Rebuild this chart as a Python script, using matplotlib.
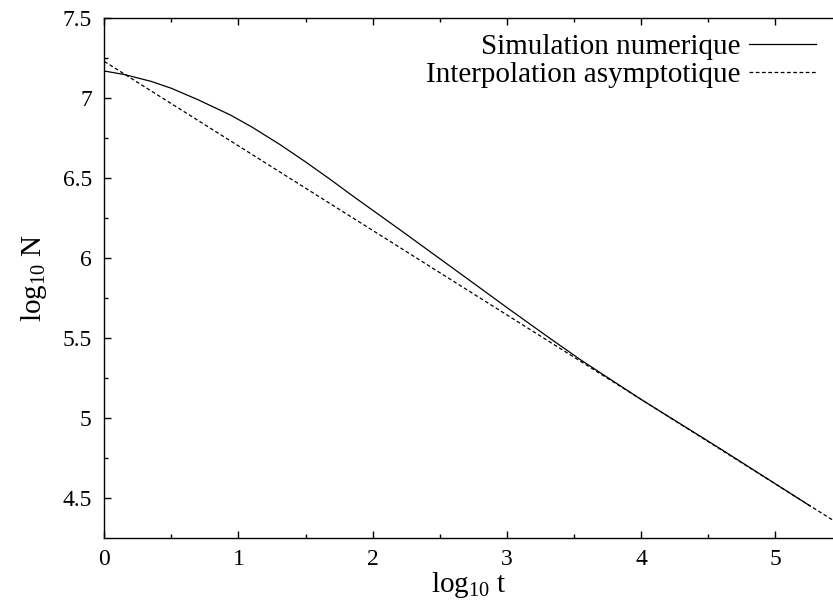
import numpy as np
import matplotlib
matplotlib.use("Agg")
import matplotlib.pyplot as plt
from matplotlib.ticker import MultipleLocator

plt.rcParams['font.family'] = ['Liberation Serif', 'DejaVu Serif']
plt.rcParams['mathtext.default'] = 'regular'

# courbe simulee
t_sim = [0, 0.15, 0.35, 0.5, 0.7, 0.94, 1.1, 1.31, 1.5, 1.68, 1.85, 2.05, 2.2, 2.43,
         2.75, 3.02, 3.32, 3.55, 4.0, 4.59, 5.26]
n_sim = [7.17, 7.148, 7.105, 7.062, 6.99, 6.895, 6.82, 6.71, 6.602, 6.495, 6.39, 6.27,
         6.18, 6.04, 5.845, 5.68, 5.50, 5.365, 5.118, 4.81, 4.452]

# droite asymptotique
t_asym = [0, 5.5]
n_asym = [7.23, 4.326]

fig = plt.figure(figsize=(8.33, 6.09), dpi=100)
ax = fig.add_axes([0.1252, 0.1171, 0.8748, 0.853])

ax.plot(t_sim, n_sim, color='black', linewidth=0.9, label='Simulation numerique')
ax.plot(t_asym, n_asym, color='black', linewidth=0.9, dashes=(3, 2),
        label='Interpolation asymptotique')

ax.set_xlim(0, 5.43)
ax.set_ylim(4.254, 7.5)
ax.xaxis.set_major_locator(MultipleLocator(1))
ax.xaxis.set_minor_locator(MultipleLocator(0.5))
ax.yaxis.set_major_locator(MultipleLocator(0.5))
ax.yaxis.set_minor_locator(MultipleLocator(0.25))
ax.yaxis.set_major_formatter(plt.FuncFormatter(lambda v, p: f"{v:g}"))

ax.tick_params(which='both', direction='in', top=True, right=False, labelsize=17)
ax.tick_params(which='major', length=5, width=1.0)
ax.tick_params(which='minor', length=3, width=1.0)
ax.tick_params(axis='x', pad=8)
ax.tick_params(axis='y', pad=9)
ax.spines['right'].set_visible(False)
for s in ['left', 'top', 'bottom']:
    ax.spines[s].set_linewidth(1.0)

ax.set_xlabel('log$_{10}$ t', fontsize=21, labelpad=0)
ax.set_ylabel('log$_{10}$ N', fontsize=21, labelpad=10)

ax.legend(loc='upper right', bbox_to_anchor=(0.993, 0.993), frameon=False,
          markerfirst=False, fontsize=21, handlelength=2.3, handletextpad=0.3,
          labelspacing=0.05, borderaxespad=0)

fig.savefig('out.png', dpi=100)
